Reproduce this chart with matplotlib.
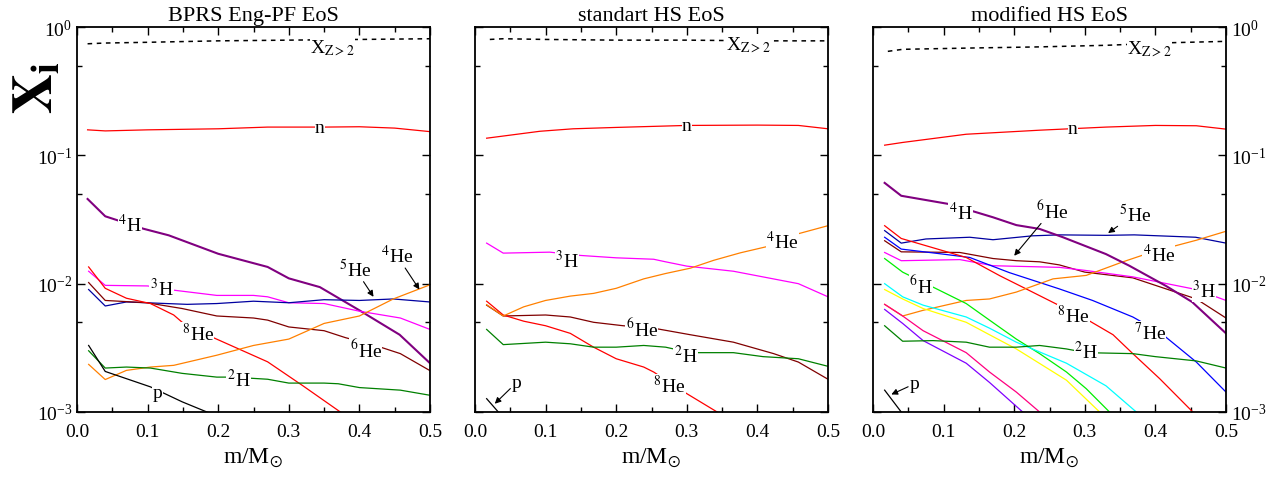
import numpy as np
import matplotlib.pyplot as plt
from matplotlib.ticker import FixedLocator, NullFormatter, LogFormatterSciNotation

plt.rcParams['font.family'] = ['Liberation Serif', 'DejaVu Serif']
plt.rcParams['mathtext.fontset'] = 'stix'
plt.rcParams['axes.unicode_minus'] = False

# ---------------- panel 1: BPRS Eng-PF EoS ----------------
p1_xz_x = [0.015, 0.04, 0.1, 0.2, 0.3, 0.4, 0.5]
p1_xz_y = [0.74, 0.75, 0.76, 0.78, 0.79, 0.80, 0.81]
p1_n_x = [0.015, 0.04, 0.1, 0.2, 0.27, 0.35, 0.4, 0.45, 0.5]
p1_n_y = [0.158, 0.155, 0.158, 0.161, 0.166, 0.166, 0.167, 0.163, 0.153]
p1_4H_x = [0.015, 0.04, 0.094, 0.13, 0.2, 0.27, 0.3, 0.344, 0.4, 0.457, 0.5]
p1_4H_y = [0.0457, 0.0335, 0.0268, 0.0238, 0.0171, 0.0135, 0.011, 0.0094, 0.0062, 0.0040, 0.0024]
p1_3H_x = [0.0165, 0.04, 0.1, 0.137, 0.198, 0.25, 0.27, 0.3, 0.35, 0.4, 0.458, 0.5]
p1_3H_y = [0.0125, 0.0097, 0.0096, 0.0089, 0.0081, 0.0081, 0.0079, 0.0071, 0.0070, 0.0061, 0.0054, 0.0044]
p1_5He_x = [0.0165, 0.04, 0.07, 0.156, 0.198, 0.25, 0.3, 0.35, 0.4, 0.448, 0.5]
p1_5He_y = [0.0090, 0.0067, 0.0072, 0.0069, 0.0070, 0.0073, 0.0071, 0.0075, 0.0074, 0.0076, 0.0072]
p1_6He_x = [0.0165, 0.04, 0.099, 0.149, 0.198, 0.25, 0.27, 0.3, 0.35, 0.38, 0.43, 0.458, 0.5]
p1_6He_y = [0.0102, 0.0074, 0.0071, 0.0064, 0.0056, 0.0054, 0.0052, 0.0046, 0.0043, 0.0038, 0.0032, 0.00285, 0.0021]
p1_8He_x = [0.0165, 0.04, 0.07, 0.104, 0.137, 0.149, 0.193, 0.27, 0.32, 0.373, 0.43, 0.5]
p1_8He_y = [0.0135, 0.0092, 0.0077, 0.0070, 0.0057, 0.0050, 0.0038, 0.00246, 0.0016, 0.0010, 0.00062, 0.00035]
p1_4He_x = [0.0165, 0.04, 0.07, 0.104, 0.137, 0.198, 0.25, 0.3, 0.35, 0.4, 0.448, 0.5]
p1_4He_y = [0.00235, 0.00179, 0.00211, 0.00224, 0.00231, 0.00277, 0.0033, 0.0037, 0.0049, 0.0056, 0.0076, 0.0098]
p1_2H_x = [0.0165, 0.04, 0.07, 0.104, 0.149, 0.198, 0.22, 0.27, 0.3, 0.35, 0.37, 0.4, 0.458, 0.5]
p1_2H_y = [0.0030, 0.0022, 0.00224, 0.0022, 0.0020, 0.00187, 0.00187, 0.0018, 0.00168, 0.00168, 0.00166, 0.00155, 0.00148, 0.00135]
p1_p_x = [0.0165, 0.04, 0.104, 0.149, 0.184, 0.25, 0.3]
p1_p_y = [0.0033, 0.00207, 0.00157, 0.0012, 0.0010, 0.00075, 0.0006]

# ---------------- panel 2: standart HS EoS ----------------
p2_xz_x = [0.021, 0.04, 0.1, 0.2, 0.3, 0.4, 0.5]
p2_xz_y = [0.80, 0.81, 0.80, 0.79, 0.79, 0.78, 0.78]
p2_n_x = [0.0165, 0.092, 0.139, 0.2, 0.3, 0.4, 0.458, 0.5]
p2_n_y = [0.136, 0.154, 0.161, 0.165, 0.171, 0.172, 0.171, 0.161]
p2_3H_x = [0.0165, 0.04, 0.106, 0.149, 0.2, 0.253, 0.27, 0.3, 0.366, 0.458, 0.5]
p2_3H_y = [0.0207, 0.0173, 0.0176, 0.0166, 0.0159, 0.0155, 0.0148, 0.0137, 0.0125, 0.0100, 0.0079]
p2_4He_x = [0.0165, 0.04, 0.069, 0.1, 0.135, 0.168, 0.2, 0.239, 0.27, 0.305, 0.338, 0.376, 0.423, 0.458, 0.5]
p2_4He_y = [0.00686, 0.0056, 0.0066, 0.0074, 0.0080, 0.0084, 0.0092, 0.0109, 0.0120, 0.0132, 0.0152, 0.0174, 0.0200, 0.0245, 0.0283]
p2_6He_x = [0.0165, 0.04, 0.1, 0.135, 0.168, 0.21, 0.253, 0.305, 0.366, 0.423, 0.458, 0.5]
p2_6He_y = [0.0068, 0.0056, 0.0057, 0.0055, 0.0050, 0.0047, 0.0045, 0.0040, 0.0035, 0.00285, 0.00245, 0.0018]
p2_8He_x = [0.0165, 0.04, 0.069, 0.1, 0.135, 0.168, 0.2, 0.239, 0.253, 0.3, 0.343, 0.42, 0.5]
p2_8He_y = [0.0073, 0.0057, 0.0051, 0.0047, 0.0041, 0.0032, 0.0026, 0.00224, 0.00205, 0.00139, 0.0010, 0.0006, 0.00035]
p2_2H_x = [0.0165, 0.04, 0.1, 0.135, 0.168, 0.2, 0.239, 0.27, 0.305, 0.366, 0.408, 0.458, 0.5]
p2_2H_y = [0.0044, 0.00335, 0.0035, 0.0034, 0.0032, 0.0032, 0.0033, 0.0032, 0.0029, 0.0029, 0.0027, 0.0026, 0.00227]
p2_p_x = [0.0165, 0.033, 0.05]
p2_p_y = [0.00127, 0.0010, 0.0008]

# ---------------- panel 3: modified HS EoS ----------------
p3_xz_x = [0.021, 0.042, 0.14, 0.236, 0.33, 0.425, 0.5]
p3_xz_y = [0.646, 0.67, 0.686, 0.70, 0.72, 0.755, 0.773]
p3_n_x = [0.0165, 0.042, 0.132, 0.236, 0.33, 0.4, 0.458, 0.5]
p3_n_y = [0.120, 0.126, 0.146, 0.157, 0.166, 0.171, 0.170, 0.160]
p3_4H_x = [0.0165, 0.04, 0.108, 0.17, 0.203, 0.236, 0.269, 0.33, 0.363, 0.415, 0.452, 0.5]
p3_4H_y = [0.061, 0.0484, 0.0417, 0.0329, 0.0286, 0.0267, 0.023, 0.017, 0.0138, 0.0096, 0.0072, 0.0041]
p3_5He_x = [0.0165, 0.04, 0.075, 0.137, 0.17, 0.226, 0.264, 0.33, 0.37, 0.457, 0.5]
p3_5He_y = [0.0259, 0.0207, 0.0223, 0.0230, 0.0220, 0.0236, 0.0240, 0.0238, 0.0240, 0.0230, 0.0207]
p3_6He_x = [0.0165, 0.04, 0.123, 0.17, 0.203, 0.236, 0.264, 0.30, 0.368, 0.458, 0.5]
p3_6He_y = [0.0216, 0.0177, 0.0175, 0.0157, 0.0151, 0.0148, 0.0140, 0.0123, 0.0111, 0.0076, 0.0054]
p3_3H_x = [0.0165, 0.04, 0.123, 0.17, 0.264, 0.30, 0.368, 0.458, 0.5]
p3_3H_y = [0.0175, 0.0151, 0.0154, 0.0138, 0.0134, 0.0127, 0.0113, 0.0090, 0.0074]
p3_7He_x = [0.0165, 0.04, 0.099, 0.137, 0.193, 0.264, 0.311, 0.368, 0.406, 0.458, 0.5]
p3_7He_y = [0.0230, 0.0186, 0.0170, 0.0160, 0.0122, 0.0091, 0.0074, 0.0055, 0.0042, 0.00245, 0.00143]
p3_8He_x = [0.0165, 0.04, 0.132, 0.18, 0.217, 0.302, 0.34, 0.368, 0.406, 0.453, 0.5]
p3_8He_y = [0.0283, 0.0225, 0.0160, 0.0115, 0.0091, 0.0053, 0.0040, 0.00285, 0.00182, 0.0010, 0.0006]
p3_4He_x = [0.0165, 0.042, 0.071, 0.132, 0.165, 0.203, 0.255, 0.302, 0.354, 0.396, 0.458, 0.5]
p3_4He_y = [0.0069, 0.0056, 0.0062, 0.0074, 0.0076, 0.0086, 0.0109, 0.0116, 0.0148, 0.0177, 0.0218, 0.0256]
p3_6H_x = [0.0165, 0.042, 0.085, 0.132, 0.165, 0.203, 0.236, 0.274, 0.302, 0.335, 0.4]
p3_6H_y = [0.0157, 0.0123, 0.0094, 0.0070, 0.0052, 0.0037, 0.00285, 0.00205, 0.00152, 0.0010, 0.0005]
p3_cyan_x = [0.0165, 0.042, 0.071, 0.132, 0.165, 0.203, 0.274, 0.33, 0.373, 0.45]
p3_cyan_y = [0.0100, 0.0079, 0.0068, 0.0055, 0.0045, 0.0035, 0.0024, 0.0016, 0.0010, 0.0005]
p3_yellow_x = [0.0165, 0.042, 0.071, 0.132, 0.165, 0.203, 0.274, 0.321, 0.4]
p3_yellow_y = [0.0090, 0.0076, 0.0064, 0.0050, 0.0040, 0.0031, 0.00177, 0.0010, 0.0004]
p3_pink_x = [0.0165, 0.042, 0.071, 0.132, 0.165, 0.203, 0.236, 0.3]
p3_pink_y = [0.0069, 0.0056, 0.0043, 0.0029, 0.00205, 0.00143, 0.0010, 0.0005]
p3_violet_x = [0.0165, 0.042, 0.071, 0.132, 0.165, 0.212, 0.27]
p3_violet_y = [0.0063, 0.0049, 0.0036, 0.0024, 0.0017, 0.0010, 0.0005]
p3_2H_x = [0.0165, 0.042, 0.085, 0.132, 0.165, 0.203, 0.236, 0.274, 0.302, 0.368, 0.4, 0.458, 0.5]
p3_2H_y = [0.0047, 0.00356, 0.0036, 0.0035, 0.0032, 0.0032, 0.0033, 0.0031, 0.0029, 0.00285, 0.0027, 0.0025, 0.0022]
p3_p_x = [0.0165, 0.04, 0.06]
p3_p_y = [0.00148, 0.0010, 0.0008]

titles = ['BPRS Eng-PF EoS', 'standart HS EoS', 'modified HS EoS']

RED = '#FF0000'
PURPLE = '#800080'
MAGENTA = '#FF00FF'
NAVY = '#0000A0'
BLUE = '#0000FF'
BROWN = '#800000'
ORANGE = '#FF8000'
GREEN = '#008000'

panels = [
    [(p1_n_x, p1_n_y, RED, 0.9), (p1_4H_x, p1_4H_y, PURPLE, 1.5),
     (p1_3H_x, p1_3H_y, MAGENTA, 0.9), (p1_5He_x, p1_5He_y, NAVY, 0.9),
     (p1_6He_x, p1_6He_y, BROWN, 0.9), (p1_8He_x, p1_8He_y, RED, 0.9),
     (p1_4He_x, p1_4He_y, ORANGE, 0.9), (p1_2H_x, p1_2H_y, GREEN, 0.9),
     (p1_p_x, p1_p_y, 'k', 0.9)],
    [(p2_n_x, p2_n_y, RED, 0.9), (p2_3H_x, p2_3H_y, MAGENTA, 0.9),
     (p2_6He_x, p2_6He_y, BROWN, 0.9), (p2_8He_x, p2_8He_y, RED, 0.9),
     (p2_4He_x, p2_4He_y, ORANGE, 0.9), (p2_2H_x, p2_2H_y, GREEN, 0.9),
     (p2_p_x, p2_p_y, 'k', 0.9)],
    [(p3_n_x, p3_n_y, RED, 0.9), (p3_5He_x, p3_5He_y, NAVY, 0.9),
     (p3_6He_x, p3_6He_y, BROWN, 0.9), (p3_3H_x, p3_3H_y, MAGENTA, 0.9),
     (p3_7He_x, p3_7He_y, BLUE, 0.9), (p3_8He_x, p3_8He_y, RED, 0.9),
     (p3_4He_x, p3_4He_y, ORANGE, 0.9), (p3_6H_x, p3_6H_y, '#00EE00', 0.9),
     (p3_cyan_x, p3_cyan_y, '#00FFFF', 0.9), (p3_yellow_x, p3_yellow_y, '#FFFF00', 0.9),
     (p3_pink_x, p3_pink_y, '#FF0080', 0.9), (p3_violet_x, p3_violet_y, '#8000FF', 0.9),
     (p3_2H_x, p3_2H_y, GREEN, 0.9), (p3_4H_x, p3_4H_y, PURPLE, 1.5),
     (p3_p_x, p3_p_y, 'k', 0.9)],
]
dashed = [(p1_xz_x, p1_xz_y), (p2_xz_x, p2_xz_y), (p3_xz_x, p3_xz_y)]

XZ = r'X$_{\mathrm{Z>2}}$'
# labels: (text, x, y)
labels = [
    [(XZ, 0.362, 0.70), ('n', 0.344, 0.166), (r'$^{4}$H', 0.075, 0.029),
     (r'$^{3}$H', 0.12, 0.0093), (r'$^{8}$He', 0.171, 0.0041), (r'$^{6}$He', 0.409, 0.0031),
     (r'$^{2}$H', 0.229, 0.0018), ('p', 0.114, 0.00143)],
    [(XZ, 0.387, 0.74), ('n', 0.30, 0.171), (r'$^{4}$He', 0.435, 0.0213),
     (r'$^{3}$H', 0.13, 0.0154), (r'$^{6}$He', 0.236, 0.0045), (r'$^{2}$H', 0.298, 0.0028),
     (r'$^{8}$He', 0.275, 0.00162)],
    [(XZ, 0.392, 0.68), ('n', 0.283, 0.162), (r'$^{4}$H', 0.124, 0.036),
     (r'$^{4}$He', 0.405, 0.0171), (r'$^{3}$H', 0.469, 0.0089), (r'$^{6}$H', 0.068, 0.0097),
     (r'$^{8}$He', 0.284, 0.0057), (r'$^{7}$He', 0.392, 0.0042), (r'$^{2}$H', 0.302, 0.0030)],
]
# arrow labels: (text, text x, text y, tip x, tip y)
arrows = [
    [(r'$^{5}$He', 0.394, 0.013, 0.42, 0.0079), (r'$^{4}$He', 0.453, 0.0166, 0.485, 0.0090)],
    [('p', 0.059, 0.0017, 0.028, 0.00116)],
    [(r'$^{5}$He', 0.371, 0.0349, 0.333, 0.0248), (r'$^{6}$He', 0.253, 0.037, 0.20, 0.0165),
     ('p', 0.059, 0.00166, 0.026, 0.00137)],
]

fig = plt.figure(figsize=(12.79, 4.85), dpi=100)
lefts = [77 / 1279, 475 / 1279, 873 / 1279]
axes = []
for k in range(3):
    ax = fig.add_axes([lefts[k], 1 - 413 / 485, 353 / 1279, 385 / 485])
    axes.append(ax)
    ax.plot(dashed[k][0], dashed[k][1], color='k', lw=1.1, ls=(0, (3, 3)))
    for xs, ys, c, lw in panels[k]:
        ax.plot(xs, ys, color=c, lw=lw)
    for t, x, y in labels[k]:
        ax.text(x, y, t, fontsize=14, ha='center', va='center', zorder=5,
                bbox=dict(fc='white', ec='none', pad=0.3))
    for t, x, y, ax_, ay in arrows[k]:
        ax.annotate(t, xy=(ax_, ay), xytext=(x, y), fontsize=14, ha='center', va='center',
                    bbox=dict(fc='white', ec='none', pad=0.3),
                    arrowprops=dict(arrowstyle='-|>', color='k', lw=0.8, shrinkA=1, shrinkB=0,
                                    mutation_scale=9), zorder=5)
    ax.set_yscale('log')
    ax.set_xlim(0, 0.5)
    ax.set_ylim(1e-3, 1)
    ax.set_xticks([0, 0.1, 0.2, 0.3, 0.4, 0.5])
    ax.set_xticklabels(['0.0', '0.1', '0.2', '0.3', '0.4', '0.5'])
    ax.xaxis.set_minor_locator(FixedLocator([0.05, 0.15, 0.25, 0.35, 0.45]))
    ax.yaxis.set_major_locator(FixedLocator([1e-3, 1e-2, 1e-1, 1]))
    ax.yaxis.set_minor_locator(FixedLocator([0.005, 0.05, 0.5]))
    ax.yaxis.set_minor_formatter(NullFormatter())
    ax.tick_params(which='both', direction='in', top=True, right=True, labelsize=14, width=1)
    ax.tick_params(which='major', length=6)
    ax.tick_params(which='minor', length=3.5)
    ax.tick_params(axis='x', pad=8)
    for s in ax.spines.values():
        s.set_linewidth(1.3)
    ax.set_title(titles[k], fontsize=16, pad=5)
    ax.set_xlabel(r'm/M$_{\odot}$', fontsize=17, labelpad=4)

axes[0].yaxis.set_major_formatter(LogFormatterSciNotation())
axes[1].tick_params(axis='y', which='both', labelleft=False)
axes[2].tick_params(axis='y', which='both', labelleft=False, labelright=True)

fig.text(0.029, 1 - 88 / 485, r'$\mathbf{X}_{\mathbf{i}}$', rotation=90, fontsize=40,
         ha='center', va='center')

plt.savefig('out.png', dpi=100)
